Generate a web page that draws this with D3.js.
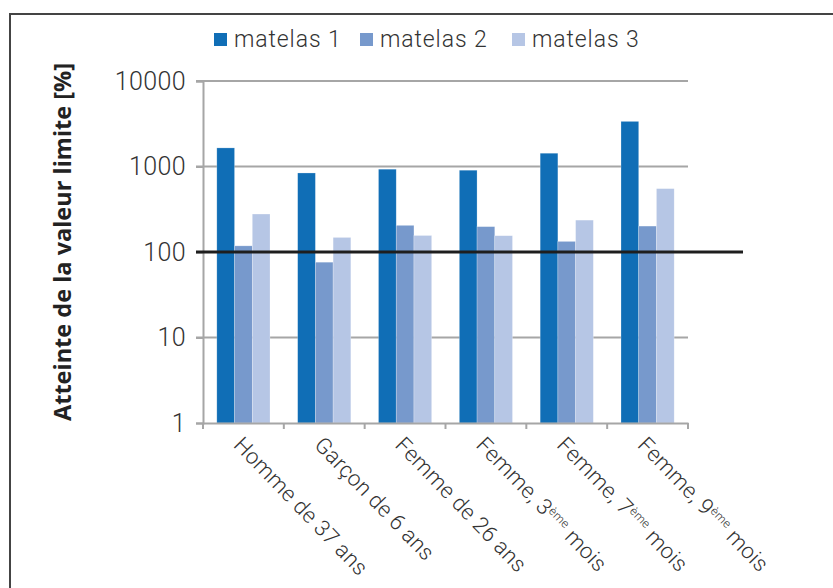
<!DOCTYPE html>
<html>
<head>
<meta charset="utf-8">
<script src="https://cdn.jsdelivr.net/npm/d3@7"></script>
<style>
  body { margin: 0; background: #fff; }
  svg { display: block; }
</style>
</head>
<body>
<div class="container"></div>
<script>
const categories = ['Homme de 37 ans', 'Garçon de 6 ans', 'Femme de 26 ans', 'Femme, 3|ème| mois', 'Femme, 7|ème| mois', 'Femme, 9|ème| mois']
const series = ['matelas 1', 'matelas 2', 'matelas 3']
const matelas1 = [1650, 840, 930, 905, 1430, 3370]
const matelas2 = [118, 76, 205, 198, 133, 201]
const matelas3 = [278, 148, 156, 155, 236, 551]
const yTicks = [1, 10, 100, 1000, 10000]
const limitValue = 100

const w = 833
const h = 588
const font = "'Roboto', 'Liberation Sans', sans-serif"
const colors = ['#106eb6', '#7799cc', '#b6c6e5']

const values = [matelas1, matelas2, matelas3]
const rows = categories.map((c, i) => ({ cat: c, vals: series.map((s, j) => ({ s, v: values[j][i] })) }))

const svg = d3.select('.container')
  .append('svg')
  .attr('width', w)
  .attr('height', h)

// outer frame, runs off the page
svg.append('rect')
  .attr('x', 10).attr('y', 14)
  .attr('width', 900).attr('height', 700)
  .attr('fill', 'none')
  .attr('stroke', '#444')
  .attr('stroke-width', 2)

const xScale = d3.scaleBand()
  .domain(categories)
  .range([203, 688])

const xSub = d3.scaleBand()
  .domain(series)
  .range([0, xScale.bandwidth()])
  .paddingOuter(0.78)

const yScale = d3.scaleLog()
  .domain([1, 10000])
  .range([423, 81])

// gridlines
svg.append('g')
  .selectAll('line')
  .data(yTicks.filter(d => d !== limitValue && d !== 1))
  .enter()
  .append('line')
  .attr('x1', 196)
  .attr('x2', 688)
  .attr('y1', d => yScale(d))
  .attr('y2', d => yScale(d))
  .attr('stroke', '#a6a6a6')
  .attr('stroke-width', 2)

// bars
const groups = svg.append('g')
  .selectAll('g')
  .data(rows)
  .enter()
  .append('g')
  .attr('transform', d => `translate(${xScale(d.cat)}, 0)`)

groups.selectAll('rect')
  .data(d => d.vals)
  .enter()
  .append('rect')
  .attr('x', d => xSub(d.s))
  .attr('width', xSub.bandwidth())
  .attr('y', d => yScale(d.v))
  .attr('height', d => yScale(1) - yScale(d.v))
  .attr('fill', (d, i) => colors[i])
  .attr('stroke', '#fff')
  .attr('stroke-opacity', 0.4)
  .attr('stroke-width', 0.6)

// y axis
const yAxis = d3.axisLeft(yScale)
  .tickValues(yTicks)
  .tickFormat(d3.format('d'))
  .tickSize(7)
  .tickPadding(10)

const yG = svg.append('g')
  .attr('transform', 'translate(203, 0)')
  .call(yAxis)
yG.select('.domain').attr('stroke', '#a6a6a6').attr('stroke-width', 2)
yG.selectAll('.tick line').attr('stroke', '#a6a6a6').attr('stroke-width', 2)
yG.selectAll('.tick text')
  .attr('font-family', font)
  .attr('font-weight', 300)
  .attr('font-size', 25)
  .attr('letter-spacing', 0.4)
  .attr('fill', '#333')

// x axis
const xAxis = d3.axisBottom(xScale).tickSize(0).tickFormat('')
const xG = svg.append('g')
  .attr('transform', `translate(0, ${yScale(1)})`)
  .call(xAxis)
xG.select('.domain').attr('stroke', '#a6a6a6').attr('stroke-width', 2)
xG.selectAll('.tick').remove()
xG.selectAll('.sep')
  .data(categories.map(c => xScale(c)).concat([xScale.range()[1]]))
  .enter()
  .append('line')
  .attr('x1', d => d).attr('x2', d => d)
  .attr('y1', 0).attr('y2', 6)
  .attr('stroke', '#a6a6a6')
  .attr('stroke-width', 2)

// limit line at 100 %
svg.append('line')
  .attr('x1', 196)
  .attr('x2', 743)
  .attr('y1', yScale(limitValue))
  .attr('y2', yScale(limitValue))
  .attr('stroke', '#1e1e1e')
  .attr('stroke-width', 3)

// x labels
const xLab = svg.append('g')
  .selectAll('text')
  .data(categories)
  .enter()
  .append('text')
  .attr('transform', d => `translate(${xScale(d) + xScale.bandwidth() / 2 - 11}, 446) rotate(46)`)
  .attr('font-family', font)
  .attr('font-weight', 300)
  .attr('font-size', 22)
  .attr('letter-spacing', 0.3)
  .attr('fill', '#333')

xLab.each(function (d) {
  const parts = d.split('|')
  const t = d3.select(this)
  parts.forEach((p, i) => {
    const sp = t.append('tspan').text(p)
    if (i === 1) sp.attr('font-size', 12).attr('baseline-shift', '60%')
  })
})

// y title
svg.append('text')
  .text('Atteinte de la valeur limite [%]')
  .attr('transform', 'translate(71, 242) rotate(-90)')
  .attr('text-anchor', 'middle')
  .attr('font-family', "'Open Sans', sans-serif")
  .attr('font-weight', 'bold')
  .attr('font-size', 23.5)
  .attr('fill', '#222')

// legend
const legendX = [214, 360, 512]
const legend = svg.append('g')
  .selectAll('g')
  .data(series)
  .enter()
  .append('g')
  .attr('transform', (d, i) => `translate(${legendX[i]}, 33)`)

legend.append('rect')
  .attr('width', 13)
  .attr('height', 13)
  .attr('fill', (d, i) => colors[i])

legend.append('text')
  .text(d => d)
  .attr('x', 20)
  .attr('y', 14)
  .attr('font-family', font)
  .attr('font-weight', 300)
  .attr('font-size', 23)
  .attr('letter-spacing', 0.9)
  .attr('fill', '#333')
</script>
</body>
</html>
